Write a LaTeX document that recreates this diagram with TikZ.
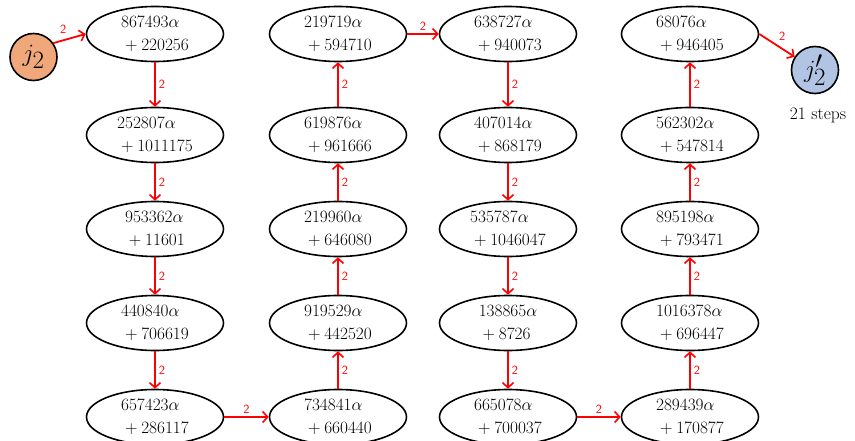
\documentclass[tikz,border=0pt]{standalone}
\usetikzlibrary{arrows.meta,shapes.geometric}
\definecolor{jorange}{RGB}{240,168,122}
\definecolor{jblue}{RGB}{178,196,228}
\tikzset{
  val/.style={ellipse, draw=black, line width=1.6pt, minimum width=137pt, minimum height=55pt,
    inner sep=0pt, align=left, font=\fontsize{17.5}{23}\selectfont},
  jnode/.style={circle, draw=black, line width=1.6pt, minimum size=47pt, inner sep=0pt,
    font=\fontsize{35}{38}\selectfont},
  stepedge/.style={draw=red, line width=1.8pt, -{Straight Barb[length=5pt,width=11pt,line width=1.6pt]}},
  lab/.style={text=red, font=\sffamily\fontsize{12.5}{13}\selectfont, inner sep=3pt},
}
\newcommand{\vv}[2]{$#1\alpha$\\$\mathord{}+#2$}
\begin{document}
\begin{tikzpicture}[x=1pt,y=-1pt]
\useasboundingbox (0,0) rectangle (855,441);
% column 1
\node[val] (a1) at (155,34) {\vv{867493}{220256}};
\node[val] (a2) at (155,135) {\vv{252807}{1011175}};
\node[val] (a3) at (155,229) {\vv{953362}{11601}};
\node[val] (a4) at (155,323) {\vv{440840}{706619}};
\node[val] (a5) at (155,417) {\vv{657423}{286117}};
% column 2
\node[val] (b1) at (338,34) {\vv{219719}{594710}};
\node[val] (b2) at (338,135) {\vv{619876}{961666}};
\node[val] (b3) at (338,229) {\vv{219960}{646080}};
\node[val] (b4) at (338,323) {\vv{919529}{442520}};
\node[val] (b5) at (338,417) {\vv{734841}{660440}};
% column 3
\node[val] (c1) at (508,34) {\vv{638727}{940073}};
\node[val] (c2) at (508,135) {\vv{407014}{868179}};
\node[val] (c3) at (508,229) {\vv{535787}{1046047}};
\node[val] (c4) at (508,323) {\vv{138865}{8726}};
\node[val] (c5) at (508,417) {\vv{665078}{700037}};
% column 4
\node[val] (d1) at (690,34) {\vv{68076}{946405}};
\node[val] (d2) at (690,135) {\vv{562302}{547814}};
\node[val] (d3) at (690,229) {\vv{895198}{793471}};
\node[val] (d4) at (690,323) {\vv{1016378}{696447}};
\node[val] (d5) at (690,417) {\vv{289439}{170877}};
% end points
\node[jnode, fill=jorange] (j) at (33.5,57) {$j_2$};
\node[jnode, fill=jblue] (jp) at (815,70) {$j_2'$};
\node[font=\fontsize{17.5}{20}\selectfont, anchor=north] (steps) at (818,104) {21 steps};
% edges
\draw[stepedge] (j.35) -- node[lab, above=3pt, pos=0.3] {2} (a1.west);
\foreach \u/\v in {a1/a2,a2/a3,a3/a4,a4/a5,b5/b4,b4/b3,b3/b2,b2/b1,c1/c2,c2/c3,c3/c4,c4/c5,d5/d4,d4/d3,d3/d2,d2/d1}
  \draw[stepedge] (\u) -- node[lab, right] {2} (\v);
\draw[stepedge] (a5) -- node[lab, above] {2} (b5);
\draw[stepedge] (b1) -- node[lab, above] {2} (c1);
\draw[stepedge] (c5) -- node[lab, above] {2} (d5);
\draw[stepedge] (d1.east) -- node[lab, above right, pos=0.45] {2} (jp);
\end{tikzpicture}
\end{document}
